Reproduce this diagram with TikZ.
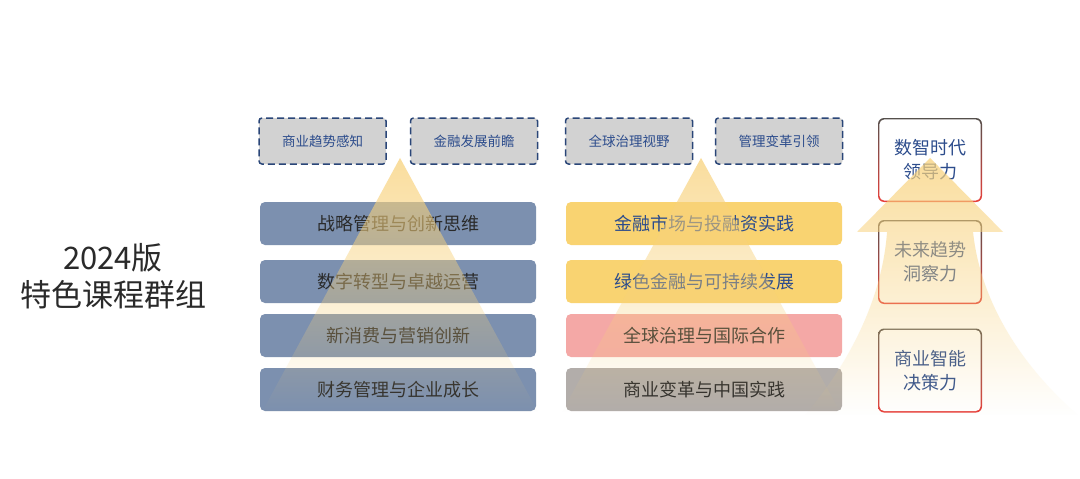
\documentclass[tikz,border=0pt]{standalone}
\usepackage{fontspec}
\setmainfont{Noto Sans CJK SC}
\usetikzlibrary{fadings}
\definecolor{txtdark}{HTML}{2A2A2A}
\definecolor{txtblue}{HTML}{2C4C8C}
\definecolor{slate}{HTML}{7C90AF}
\definecolor{yel}{HTML}{F9D371}
\definecolor{pinkc}{HTML}{F4A8A6}
\definecolor{grayc}{HTML}{B2ADAA}
\definecolor{dashfill}{HTML}{D2D2D2}
\definecolor{dashline}{HTML}{2A4678}
\definecolor{arrowc}{HTML}{F8D27C}
\definecolor{bordtop}{HTML}{55504C}
\definecolor{bordbot}{HTML}{E8413C}
\tikzfading[name=arrowfade, top color=transparent!25, middle color=transparent!72, bottom color=transparent!100]
\pgfdeclarelayer{background}
\pgfdeclarelayer{foreground}
\pgfsetlayers{background,main,foreground}
\tikzset{
  titletext/.style={align=center, text=txtdark, font=\fontsize{31}{37}\selectfont},
  dashbox/.style={draw=dashline, fill=dashfill, dashed, dash pattern=on 7pt off 4pt,
     line width=1.5pt, rounded corners=3pt, minimum width=127pt, minimum height=46pt,
     text=txtblue, font=\fontsize{13.5}{16}\selectfont, inner sep=0pt},
  course/.style={rounded corners=5pt, minimum width=276pt, minimum height=43pt,
     inner sep=0pt, font=\fontsize{18}{22}\selectfont, text=txtdark},
  skill/.style={rounded corners=6pt, minimum width=104pt, minimum height=84pt,
     inner sep=0pt, align=center, text=txtblue, font=\fontsize{18}{24}\selectfont,
     top color=bordtop, bottom color=bordbot,
     path picture={\fill[white, rounded corners=5pt]
        ([shift={(1.4,1.4)}]path picture bounding box.north west) rectangle
        ([shift={(-1.4,-1.4)}]path picture bounding box.south east);}},
  glow/.style={fill=arrowc, path fading=arrowfade}
}
\begin{document}
\begin{tikzpicture}[x=1pt,y=-1pt]
\useasboundingbox (0,0) rectangle (1080,479);
\fill[white] (0,0) rectangle (1080,479);

\node[titletext] (title) at (113,276) {2024版\\特色课程群组};

% top dashed boxes
\node[dashbox] (d1) at (322.5,141) {商业趋势感知};
\node[dashbox] (d2) at (474,141) {金融发展前瞻};
\node[dashbox] (d3) at (629,141) {全球治理视野};
\node[dashbox] (d4) at (779,141) {管理变革引领};

% left column
\node[course, fill=slate] (l1) at (398,223.5) {战略管理与创新思维};
\node[course, fill=slate] (l2) at (398,281.5) {数字转型与卓越运营};
\node[course, fill=slate] (l3) at (398,335.5) {新消费与营销创新};
\node[course, fill=slate] (l4) at (398,389.5) {财务管理与企业成长};

% middle column
\node[course, fill=yel, text=txtblue] (m1) at (704,223.5) {金融市场与投融资实践};
\node[course, fill=yel, text=txtblue] (m2) at (704,281.5) {绿色金融与可持续发展};
\node[course, fill=pinkc] (m3) at (704,335.5) {全球治理与国际合作};
\node[course, fill=grayc] (m4) at (704,389.5) {商业变革与中国实践};

% right column
\node[skill] (r1) at (930,160) {数智时代\\领导力};
\node[skill] (r2) at (930,262) {未来趋势\\洞察力};
\node[skill] (r3) at (930,370.5) {商业智能\\决策力};

% soft shadows behind right boxes
\begin{pgfonlayer}{background}
\foreach \n in {r1,r2,r3}{
  \foreach \s in {2,4,...,14}{
    \fill[black, opacity=0.022, rounded corners=8pt]
      ([shift={(-\s,-\s)}]\n.north west) rectangle ([shift={(\s,\s)}]\n.south east);
  }
}
\end{pgfonlayer}

% translucent upward arrows
\begin{pgfonlayer}{foreground}
\coordinate (la) at (400,158);
\coordinate (ma) at (701,158);
\coordinate (ra) at (930,158);
\fill[glow] (la) -- (538,412) -- (262,412) -- cycle;
\fill[glow] (ma) -- (840,412) -- (562,412) -- cycle;
\fill[glow] (ra) -- (1003,232) -- (973,232)
   .. controls (980,300) and (1020,365) .. (1078,415)
   -- (805,415)
   .. controls (848,365) and (882,300) .. (887,232)
   -- (857,232) -- cycle;
\end{pgfonlayer}
\end{tikzpicture}
\end{document}
